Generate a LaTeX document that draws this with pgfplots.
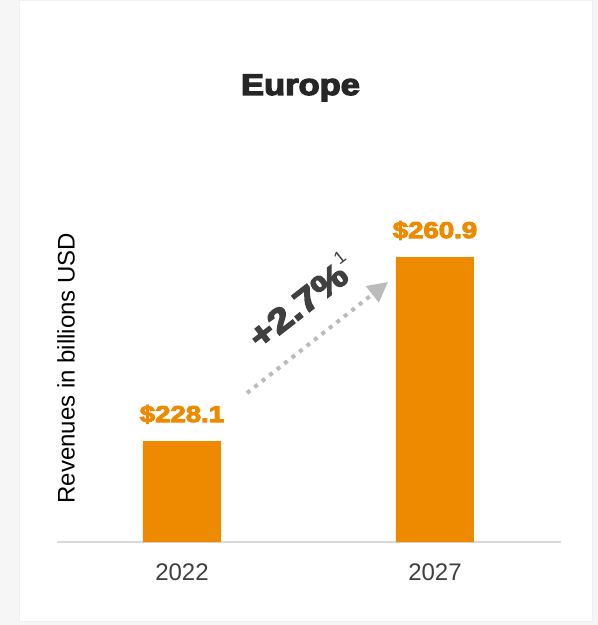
\documentclass[border=0pt]{standalone}
\usepackage{fontspec}
\setmainfont{Liberation Sans}
\newfontfamily\heavy[BoldFont=Liberation Sans Bold, BoldFeatures={FakeBold=4}]{Liberation Sans}
\usepackage{pgfplots}
\pgfplotsset{compat=1.18}
\usetikzlibrary{arrows.meta}
\definecolor{barOrange}{HTML}{EE8A00}
\definecolor{txtGray}{HTML}{404040}
\definecolor{titleGray}{HTML}{262626}
\definecolor{lineGray}{HTML}{D9D9D9}
\definecolor{arrGray}{HTML}{BBBBBB}
\definecolor{bgGray}{HTML}{F6F6F6}
\begin{document}
\begin{tikzpicture}[x=1pt,y=1pt]
\fill[bgGray] (0,0) rectangle (598,625);
\fill[white] (19,3) rectangle (592,624);
\draw[black!6, line width=1pt] (19,3) rectangle (592,624);
\begin{axis}[
  at={(57pt,83pt)}, anchor=south west,
  scale only axis, width=504pt, height=341pt,
  xmin=-0.494, xmax=1.498,
  ymin=210.1, ymax=270.9,
  axis x line*=bottom, axis y line=none,
  x axis line style={draw=lineGray, line width=2pt, -},
  xtick={0,1}, xticklabels={2022,2027},
  major tick length=0pt,
  xticklabel style={anchor=base, yshift=-38pt, font=\fontsize{24}{28}\selectfont, text=txtGray},
  ytick=\empty,
  ybar, bar width=78pt, bar shift=0pt,
  point meta=explicit symbolic,
  nodes near coords={\scalebox{1.2}[1]{\$\pgfplotspointmeta}},
  nodes near coords style={anchor=base, yshift=19pt, font=\heavy\bfseries\fontsize{23}{26}\selectfont, text=barOrange},
]
\addplot[fill=barOrange, draw=none] coordinates {(0,228.1) [228.1] (1,260.9) [260.9]};
\end{axis}
\node[anchor=base, text=titleGray, font=\heavy\bfseries\fontsize{30}{34}\selectfont] at (300.5,530) {\scalebox{1.15}[1]{Europe}};
\node[rotate=90, font=\fontsize{24}{28}\selectfont, text=black] at (66,257) {Revenues in billions USD};
\draw[arrGray, line width=4pt, dash pattern=on 4pt off 5.5pt, -{Triangle[length=20pt,width=20pt]}] (247,232) -- (388,343);
\node[rotate=38, text=txtGray, anchor=center, inner sep=0pt] at (300,325) {\scalebox{1.18}[1]{\heavy\bfseries\fontsize{34}{38}\selectfont +2.7\%}\raisebox{18pt}{\fontsize{18}{20}\selectfont 1}};
\pgfresetboundingbox
\path (0,0) rectangle (598,625);
\end{tikzpicture}
\end{document}
